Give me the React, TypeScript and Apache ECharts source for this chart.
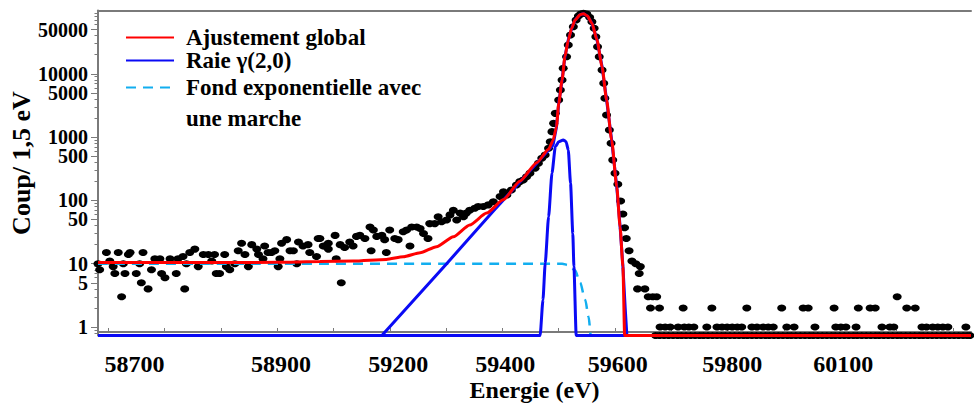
import React, { useEffect, useRef } from 'react';
import * as echarts from 'echarts';

// ---- axis ranges (eV, counts per 1.5 eV bin) ----
const X_MIN = 58682;
const X_MAX = 60232;
const Y_MIN = 0.734;
const Y_MAX = 100000;

// ---- tick / label arrays ----
const xTickValues = [58700, 58800, 58900, 59000, 59100, 59200, 59300, 59400, 59500, 59600, 59700, 59800, 59900, 60000, 60100, 60200];
const xLabelPositions = [58747, 59007, 59215, 59405, 59605, 59808, 60005];
const xLabelTexts = ['58700', '58900', '59200', '59400', '59600', '59800', '60100'];
const yLabelValues = [1, 5, 10, 50, 100, 500, 1000, 5000, 10000, 50000];
const yMinorTickValues = [0.8, 0.9, 2, 3, 4, 6, 7, 8, 9, 20, 30, 40, 60, 70, 80, 90, 200, 300, 400, 600, 700, 800, 900,
  2000, 3000, 4000, 6000, 7000, 8000, 9000, 20000, 30000, 40000, 60000, 70000, 80000, 90000];

// ---- measured spectrum (energy eV, counts) ----
const lowTailPoints: [number, number][] = [
  [58682, 10], [58685, 8], [58697, 15], [58703, 11], [58709, 9], [58712, 7], [58718, 15], [58724, 3], [58727, 10], [58730, 7],
  [58736, 14], [58739, 15], [58750, 7], [58756, 10], [58759, 5], [58762, 15], [58771, 4], [58777, 8], [58783, 12], [58792, 12],
  [58795, 7], [58801, 6], [58810, 12], [58821, 7], [58824, 12], [58833, 13], [58836, 4], [58839, 10], [58845, 15], [58854, 17],
  [58860, 9], [58869, 14], [58878, 14], [58884, 11], [58889, 14], [58892, 7], [58898, 7], [58907, 14], [58910, 9], [58916, 8],
  [58925, 10], [58931, 16], [58937, 21], [58943, 14], [58949, 9], [58955, 20], [58964, 17], [58967, 14], [58975, 12], [58978, 19],
  [58984, 15], [58990, 15], [58996, 16], [59002, 9], [59005, 12], [59008, 21], [59017, 24], [59023, 16], [59029, 16], [59035, 10],
  [59038, 22], [59046, 19], [59055, 20], [59058, 15], [59070, 13], [59073, 25], [59082, 19], [59091, 17],
];
const riseTailPoints: [number, number][] = [
  [59076, 25], [59085, 19], [59091, 21], [59103, 28], [59105, 12], [59112, 20], [59114, 5], [59120, 18], [59129, 22], [59135, 19],
  [59141, 27], [59147, 28], [59156, 25], [59165, 38], [59167, 16], [59171, 34], [59177, 27], [59186, 28], [59191, 24], [59194, 15],
  [59200, 34], [59209, 25], [59215, 24], [59224, 32], [59230, 34], [59236, 19], [59239, 38], [59248, 38], [59254, 36], [59260, 30],
  [59268, 25], [59271, 43], [59280, 43], [59286, 55], [59292, 46], [59301, 49], [59307, 59], [59313, 70], [59319, 49], [59325, 63],
  [59331, 55], [59336, 63], [59342, 70], [59351, 75], [59357, 80], [59366, 80], [59375, 85], [59384, 95], [59396, 115], [59402, 137],
  [59408, 122], [59416, 146], [59425, 175], [59431, 198], [59437, 210], [59443, 237], [59449, 268], [59458, 321], [59464, 385],
  [59470, 462], [59476, 522],
];
const peakPoints: [number, number][] = [
  [59482, 665], [59485, 847], [59488, 1219], [59491, 1648], [59494, 2372], [59500, 3855], [59503, 5550], [59506, 7985],
  [59508, 12210], [59514, 18640], [59517, 28510], [59521, 41020], [59526, 55480], [59531, 70800], [59535, 81900], [59539, 88100],
  [59544, 90300], [59550, 88100], [59555, 78100], [59559, 66500], [59563, 52300], [59566, 38500], [59569, 26800], [59572, 18600],
  [59577, 11480], [59580, 7080], [59582, 4100], [59585, 2235], [59590, 1295], [59593, 798], [59596, 435], [59600, 268],
  [59605, 180], [59610, 98], [59614, 61], [59617, 37], [59620, 25], [59625, 16], [59630, 11], [59637, 10], [59645, 9],
  [59643, 7], [59640, 4], [59653, 4], [59659, 3], [59667, 3], [59674, 3], [59663, 2], [59679, 2],
];
const highTailPoints: [number, number][] = [
  [59721, 2], [59772, 2], [59834, 2], [59896, 2], [59934, 2], [59943, 2], [59989, 2], [60032, 2], [60053, 2], [60062, 2],
  [60118, 2], [60133, 2], [60101, 3],
  [59680, 1], [59689, 1], [59698, 1], [59712, 1], [59723, 1], [59731, 1], [59740, 1], [59763, 1], [59781, 1], [59790, 1],
  [59799, 1], [59808, 1], [59817, 1], [59825, 1], [59843, 1], [59852, 1], [59863, 1], [59872, 1], [59881, 1], [59905, 1],
  [59918, 1], [59955, 1], [59992, 1], [60001, 1], [60010, 1], [60028, 1], [60074, 1], [60088, 1], [60095, 1], [60145, 1],
  [60153, 1], [60164, 1], [60173, 1], [60182, 1], [60191, 1], [60223, 1],
];
const zeroCountEnergies = [
  59672, 59679, 59687, 59695, 59703, 59711, 59718, 59726, 59734, 59742, 59750, 59757, 59765, 59773, 59781, 59789, 59796,
  59804, 59812, 59820, 59828, 59835, 59843, 59851, 59859, 59867, 59874, 59882, 59890, 59898, 59906, 59913, 59921, 59929,
  59937, 59945, 59952, 59960, 59968, 59976, 59984, 59991, 59999, 60007, 60015, 60023, 60030, 60038, 60046, 60054, 60062,
  60069, 60077, 60085, 60093, 60101, 60108, 60116, 60124, 60132, 60140, 60147, 60155, 60163, 60171, 60179, 60186, 60194,
  60202, 60210, 60218, 60225, 60230,
];

// ---- fitted components (0 = no counts, drawn on the floor of the log axis) ----
const fitGlobal: [number, number][] = [
  [58682, 10.4], [58800, 10.4], [58900, 10.4], [59000, 10.5], [59076, 10.8], [59135, 11.0], [59194, 11.7], [59224, 12.9],
  [59254, 14.9], [59283, 18.6], [59313, 26.7], [59342, 41], [59372, 63], [59402, 103], [59431, 200], [59461, 395],
  [59482, 640], [59490, 895], [59496, 1450], [59500, 3400], [59506, 7985], [59511, 18640], [59517, 34200], [59523, 52300],
  [59529, 70800], [59538, 86000], [59544, 89000], [59551, 81900], [59559, 62800], [59568, 34200], [59577, 12900],
  [59585, 3855], [59594, 895], [59603, 165], [59609, 38], [59614, 9], [59617, 0], [60232, 0],
];
const raieMainTail: [number, number][] = [
  [59186, 0], [59301, 10], [59384, 68], [59431, 196], [59461, 385], [59490, 750], [59496, 1450],
  [59500, 3400], [59506, 7985], [59511, 18640], [59517, 34200], [59523, 52300], [59529, 70800], [59538, 86000],
  [59544, 89000], [59551, 81900], [59559, 62800], [59568, 34200], [59577, 12900], [59585, 3855], [59594, 895],
  [59603, 165], [59609, 38], [59614, 9], [59618, 2], [59621, 0],
];
const raieGamma: [number, number][] = [
  [58682, 0], [59467, 0], [59472, 2.67], [59476, 10.1], [59482, 55], [59488, 268], [59494, 705], [59500, 847], [59508, 900],
  [59513, 847], [59517, 626], [59521, 186], [59525, 30], [59527, 9], [59531, 0], [60232, 0],
];
const fondMarche: [number, number][] = [
  [58682, 10], [59506, 10], [59517, 9.5], [59529, 7.9], [59538, 5], [59547, 2.7], [59553, 1.45], [59557, 0], [60232, 0],
];

const FONT = '"Times New Roman", "Liberation Serif", serif';
const AXIS_GRAY = '#7a7a7a';
const BLUE = '#0a0af5';
const CYAN = '#12AEEF';
const RED = '#ff0000';

const lift = (p: [number, number]) => [p[0], p[1] <= 0 ? Y_MIN : p[1]];

function nearestLabel(v: number) {
  let best = 0;
  for (let i = 1; i < xLabelPositions.length; i++) {
    if (Math.abs(xLabelPositions[i] - v) < Math.abs(xLabelPositions[best] - v)) best = i;
  }
  return xLabelTexts[best];
}

function buildOption() {
  const scatterData = [
    ...lowTailPoints, ...riseTailPoints, ...peakPoints, ...highTailPoints,
    ...zeroCountEnergies.map((e) => [e, 0] as [number, number]),
  ].map(lift);

  const legendText = { fontFamily: FONT, fontWeight: 'bold' as const, fontSize: 23, color: '#000' };

  return {
    animation: false,
    grid: { left: 98, right: 3, top: 10.5, bottom: 68.5, containLabel: false, outerBoundsMode: 'none' },
    legend: [
      {
        data: ['Ajustement global', 'Raie γ(2,0)'],
        orient: 'vertical', left: 125, top: 26, padding: 0, itemGap: 0,
        itemWidth: 48, itemHeight: 14, selectedMode: false,
        itemStyle: { opacity: 0 },
        textStyle: { ...legendText, lineHeight: 23, padding: [0, 0, 0, 7] },
      },
      {
        data: ['Fond exponentielle avec une marche'],
        orient: 'vertical', left: 125, top: 41, padding: 0, itemGap: 0,
        itemWidth: 48, itemHeight: 14, selectedMode: false,
        itemStyle: { opacity: 0 },
        formatter: () => '\nFond exponentielle avec\nune marche',
        textStyle: { ...legendText, lineHeight: 31, padding: [0, 0, 0, 7] },
      },
    ],
    xAxis: [
      {
        type: 'value', position: 'bottom', min: X_MIN, max: X_MAX, offset: -3.5,
        axisLine: { show: true, lineStyle: { color: AXIS_GRAY, width: 2 } },
        axisTick: { show: true, inside: true, length: 4, customValues: xTickValues, lineStyle: { color: AXIS_GRAY, width: 1 } },
        axisLabel: {
          show: true, customValues: xLabelPositions, formatter: (v: number) => nearestLabel(v),
          fontFamily: FONT, fontWeight: 'bold', fontSize: 24, color: '#000', margin: 20,
        },
        splitLine: { show: false },
        name: 'Energie (eV)', nameLocation: 'middle', nameGap: 46, nameMoveOverlap: false,
        nameTextStyle: { fontFamily: FONT, fontWeight: 'bold', fontSize: 24, color: '#000' },
      },
      {
        type: 'value', position: 'top', min: X_MIN, max: X_MAX,
        axisLine: { show: true, lineStyle: { color: AXIS_GRAY, width: 2 } },
        axisTick: { show: false }, axisLabel: { show: false }, splitLine: { show: false },
      },
    ],
    yAxis: [
      {
        type: 'log', logBase: 10, min: Y_MIN, max: Y_MAX, position: 'left',
        axisLine: { show: true, lineStyle: { color: AXIS_GRAY, width: 2 } },
        axisTick: { show: true, inside: false, length: 7, customValues: yLabelValues, lineStyle: { color: AXIS_GRAY, width: 1 } },
        axisLabel: {
          show: true, customValues: yLabelValues, formatter: (v: number) => String(Math.round(v)),
          fontFamily: FONT, fontWeight: 'bold', fontSize: 20, lineHeight: 14, color: '#000', margin: 10,
        },
        splitLine: { show: false }, minorTick: { show: false },
        name: 'Coup/ 1,5 eV', nameLocation: 'middle', nameGap: 64, nameRotate: 90, nameMoveOverlap: false,
        nameTextStyle: { fontFamily: FONT, fontWeight: 'bold', fontSize: 26, color: '#000', padding: [0, 0, 0, 20] },
      },
      {
        type: 'log', logBase: 10, min: Y_MIN, max: Y_MAX, position: 'left',
        axisLine: { show: false },
        axisTick: { show: true, inside: false, length: 3.5, customValues: yMinorTickValues, lineStyle: { color: AXIS_GRAY, width: 1 } },
        axisLabel: { show: false }, splitLine: { show: false },
      },
    ],
    series: [
      {
        name: 'Mesure', type: 'scatter', xAxisIndex: 0, yAxisIndex: 0,
        data: scatterData, symbol: 'circle', symbolSize: [9, 7],
        itemStyle: { color: '#000', opacity: 1 },
      },
      {
        name: 'Fond exponentielle avec une marche', type: 'line', xAxisIndex: 0, yAxisIndex: 0,
        data: fondMarche.map(lift), symbol: 'none', smooth: 0.3, smoothMonotone: 'x',
        lineStyle: { color: CYAN, width: 2.5, type: [10, 7] }, itemStyle: { color: CYAN },
      },
      {
        name: 'Raie principale', type: 'line', xAxisIndex: 0, yAxisIndex: 0,
        data: raieMainTail.map(lift), symbol: 'none', smooth: false,
        lineStyle: { color: BLUE, width: 3 }, itemStyle: { color: BLUE },
      },
      {
        name: 'Raie γ(2,0)', type: 'line', xAxisIndex: 0, yAxisIndex: 0,
        data: raieGamma.map(lift), symbol: 'none', smooth: 0.2, smoothMonotone: 'x',
        lineStyle: { color: BLUE, width: 3 }, itemStyle: { color: BLUE },
      },
      {
        name: 'Ajustement global', type: 'line', xAxisIndex: 0, yAxisIndex: 0,
        data: fitGlobal.map(lift), symbol: 'none', smooth: 0.2, smoothMonotone: 'x',
        lineStyle: { color: RED, width: 3 }, itemStyle: { color: RED },
      },
    ],
  };
}

export default function App() {
  const ref = useRef<HTMLDivElement>(null);
  useEffect(() => {
    if (!ref.current) return;
    const chart = echarts.init(ref.current, undefined, { renderer: 'svg' });
    chart.setOption(buildOption() as any);
    return () => chart.dispose();
  }, []);
  return (
    <div
      ref={ref}
      style={{ position: 'fixed', left: 0, top: 0, width: 974, height: 404, background: '#fff' }}
    />
  );
}
